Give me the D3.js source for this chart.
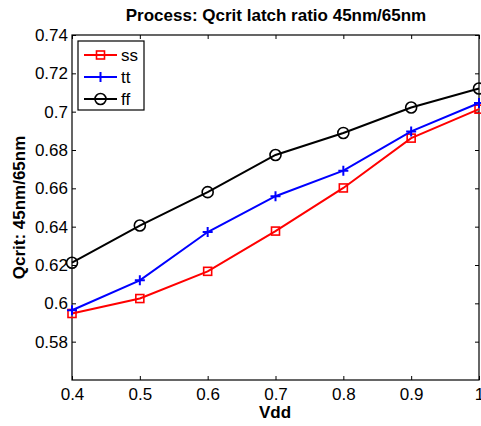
<!DOCTYPE html>
<html>
<head>
<meta charset="utf-8">
<script src="https://cdn.jsdelivr.net/npm/d3@7"></script>
<style>
  body { margin: 0; background: #fff; }
  text { font-family: "Liberation Sans", Arial, sans-serif; }
</style>
</head>
<body>
<script>
// values
const vdd = [0.4, 0.5, 0.6, 0.7, 0.8, 0.9, 1.0];
const ss = [0.5947, 0.6025, 0.6167, 0.6377, 0.6602, 0.6862, 0.7013];
const tt = [0.5964, 0.6120, 0.6372, 0.6559, 0.6692, 0.6897, 0.7045];
const ff = [0.6212, 0.6406, 0.6580, 0.6774, 0.6889, 0.7022, 0.7121];
const yTicks = [0.58, 0.6, 0.62, 0.64, 0.66, 0.68, 0.7, 0.72, 0.74];
const seriesNames = ["ss", "tt", "ff"];

const width = 481, height = 426;
const margin = {left: 72, top: 35, right: 2, bottom: 46};

const svg = d3.select("body").append("svg")
    .attr("width", width)
    .attr("height", height);

const x = d3.scaleLinear()
    .domain([0.4, 1])
    .range([margin.left, width - margin.right]);

const y = d3.scaleLinear()
    .domain([0.56, 0.74])
    .range([height - margin.bottom, margin.top]);

const fmt = d => d3.format("~g")(d);

// inward ticks on all four sides, matlab style
svg.append("g")
    .attr("transform", `translate(0,${y(0.56)})`)
    .call(d3.axisBottom(x).tickValues(vdd).tickFormat(fmt).tickSizeInner(-4).tickSizeOuter(0).tickPadding(8))
    .call(g => g.select(".domain").remove());
svg.append("g")
    .attr("transform", `translate(0,${y(0.74)})`)
    .call(d3.axisTop(x).tickValues(vdd).tickFormat("").tickSizeInner(-4).tickSizeOuter(0))
    .call(g => g.select(".domain").remove());
svg.append("g")
    .attr("transform", `translate(${x(0.4)},0)`)
    .call(d3.axisLeft(y).tickValues(yTicks).tickFormat(fmt).tickSizeInner(-4).tickSizeOuter(0).tickPadding(4))
    .call(g => g.select(".domain").remove());
svg.append("g")
    .attr("transform", `translate(${x(1)},0)`)
    .call(d3.axisRight(y).tickValues(yTicks).tickFormat("").tickSizeInner(-4).tickSizeOuter(0))
    .call(g => g.select(".domain").remove());

svg.selectAll(".tick text")
    .attr("font-size", 17)
    .attr("font-family", "Liberation Sans, Arial, sans-serif")
    .attr("fill", "#000");
svg.selectAll(".tick line").attr("stroke", "#000");

svg.append("rect")
    .attr("x", x(0.4)).attr("y", y(0.74))
    .attr("width", x(1) - x(0.4)).attr("height", y(0.56) - y(0.74))
    .attr("fill", "none").attr("stroke", "#000").attr("stroke-width", 1.2);

const series = [
  {name: "ss", values: ss, color: "#ff0000", marker: "square"},
  {name: "tt", values: tt, color: "#0000ff", marker: "plus"},
  {name: "ff", values: ff, color: "#000000", marker: "circle"}
];

const line = d3.line()
    .x((d, i) => x(vdd[i]))
    .y(d => y(d));

function drawMarker(g, type, color) {
  if (type === "square") {
    g.append("rect").attr("x", -4).attr("y", -4).attr("width", 8).attr("height", 8)
      .attr("fill", "none").attr("stroke", color).attr("stroke-width", 1.6);
  } else if (type === "plus") {
    g.append("path").attr("d", "M-5,0H5M0,-5V5")
      .attr("stroke", color).attr("stroke-width", 2);
  } else {
    g.append("circle").attr("r", 5.5)
      .attr("fill", "none").attr("stroke", color).attr("stroke-width", 1.6);
  }
}

series.forEach(s => {
  svg.append("path")
      .datum(s.values)
      .attr("d", line)
      .attr("fill", "none")
      .attr("stroke", s.color)
      .attr("stroke-width", 2);
  s.values.forEach((v, i) => {
    const g = svg.append("g").attr("transform", `translate(${x(vdd[i])},${y(v)})`);
    drawMarker(g, s.marker, s.color);
  });
});

// legend
const lg = svg.append("g").attr("transform", "translate(78,41)");
lg.append("rect")
    .attr("width", 66).attr("height", 69)
    .attr("fill", "#fff").attr("stroke", "#000").attr("stroke-width", 1.2);
series.forEach((s, i) => {
  const yy = 14 + i * 22;
  lg.append("line")
      .attr("x1", 6).attr("x2", 39).attr("y1", yy).attr("y2", yy)
      .attr("stroke", s.color).attr("stroke-width", 2);
  drawMarker(lg.append("g").attr("transform", `translate(22.5,${yy})`), s.marker, s.color);
  lg.append("text")
      .attr("x", 43).attr("y", yy)
      .attr("dy", "0.35em")
      .attr("font-size", 17)
      .text(seriesNames[i]);
});

// titles
svg.append("text")
    .attr("x", 276).attr("y", 21)
    .attr("text-anchor", "middle")
    .attr("font-size", 17)
    .attr("font-weight", "bold")
    .text("Process: Qcrit latch ratio 45nm/65nm");

svg.append("text")
    .attr("x", 275).attr("y", 418)
    .attr("text-anchor", "middle")
    .attr("font-size", 17)
    .attr("font-weight", "bold")
    .text("Vdd");

svg.append("text")
    .attr("transform", `translate(25,${(y(0.56) + y(0.74)) / 2}) rotate(-90)`)
    .attr("text-anchor", "middle")
    .attr("font-size", 17)
    .attr("font-weight", "bold")
    .text("Qcrit: 45nm/65nm");
</script>
</body>
</html>
